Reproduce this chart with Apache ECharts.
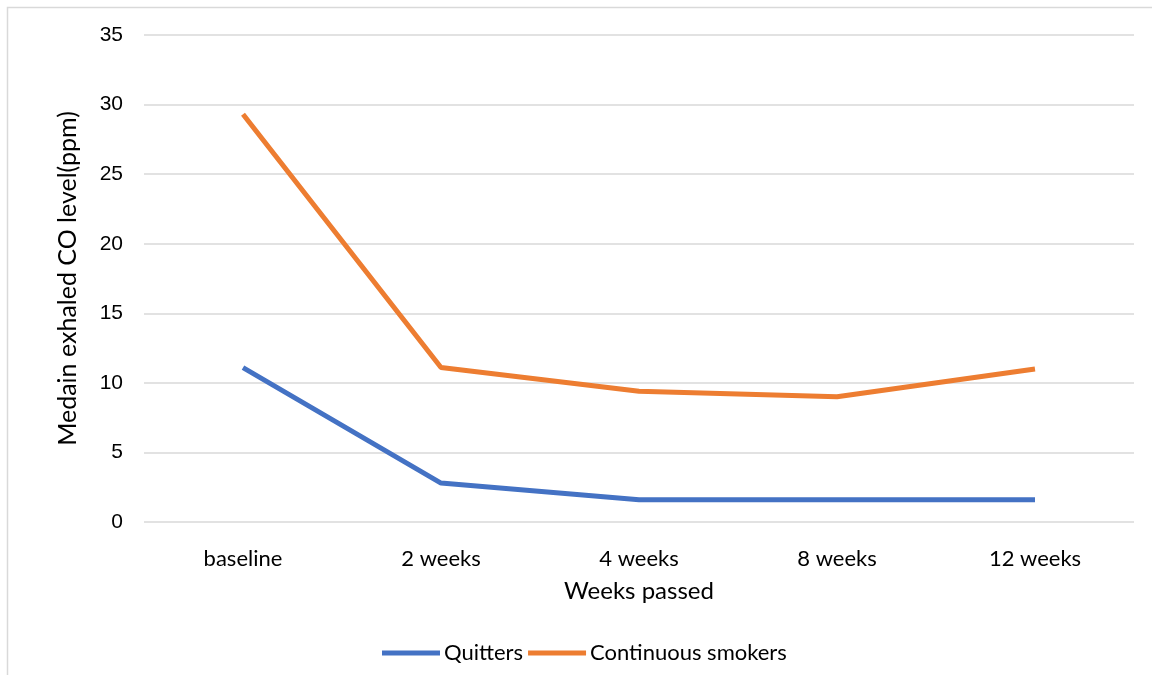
<!DOCTYPE html>
<html><head><meta charset="utf-8">
<script src="https://cdn.jsdelivr.net/npm/echarts@6/dist/echarts.min.js"></script>
<style>html,body{margin:0;padding:0;background:#fff}#c{width:1152px;height:675px}</style>
</head><body><div id="c"></div>
<script>
const categories = ['baseline', '2 weeks', '4 weeks', '8 weeks', '12 weeks'];
const quitters = [11.1, 2.8, 1.6, 1.6, 1.6];
const continuousSmokers = [29.3, 11.1, 9.4, 9.0, 11.0];
const seriesNames = ['Quitters', 'Continuous smokers'];

const chart = echarts.init(document.getElementById('c'));
chart.setOption({
  animation: false,
  backgroundColor: '#fff',
  graphic: [{
    type: 'rect', shape: {x: 7.5, y: 7.5, width: 1160, height: 680},
    style: {fill: 'none', stroke: '#d9d9d9', lineWidth: 1.5}, silent: true
  }],
  grid: {left: 144, right: 18, top: 35, bottom: 153},
  legend: {
    bottom: 6, left: 377,
    itemWidth: 58, itemHeight: 5, itemGap: 5,
    icon: 'rect',
    textStyle: {fontFamily: 'Lato', fontSize: 22, color: '#000', padding: [0,0,0,-1]},
    data: seriesNames
  },
  xAxis: {
    type: 'category', data: categories, boundaryGap: true,
    name: 'Weeks passed', nameLocation: 'middle', nameGap: 57,
    nameTextStyle: {fontFamily: 'Lato', fontSize: 24, color: '#000'},
    axisLine: {show: false}, axisTick: {show: false},
    axisLabel: {fontFamily: 'Lato', fontSize: 22, color: '#000', margin: 26}
  },
  yAxis: {
    type: 'value', min: 0, max: 35, interval: 5,
    name: 'Medain exhaled CO level(ppm)', nameLocation: 'middle', nameGap: 64,
    nameTextStyle: {fontFamily: 'Lato', fontSize: 25, color: '#000'},
    axisLabel: {fontFamily: 'Liberation Sans', fontSize: 21, color: '#000', margin: 21},
    splitLine: {lineStyle: {color: '#d9d9d9', width: 1.5}},
    axisLine: {show: false}, axisTick: {show: false}
  },
  series: [
    {name: seriesNames[0], type: 'line', data: quitters, symbol: 'none',
     lineStyle: {color: '#4472C4', width: 5}, itemStyle: {color: '#4472C4'}},
    {name: seriesNames[1], type: 'line', data: continuousSmokers, symbol: 'none',
     lineStyle: {color: '#ED7D31', width: 5}, itemStyle: {color: '#ED7D31'}}
  ]
});
</script></body></html>
